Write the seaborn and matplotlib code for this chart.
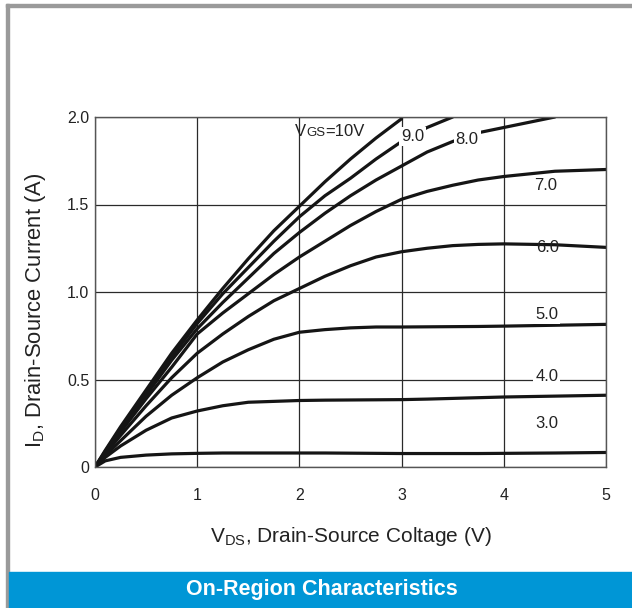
import numpy as np
import pandas as pd
import seaborn as sns
import matplotlib.pyplot as plt
from matplotlib.patches import Rectangle
from matplotlib.offsetbox import TextArea, HPacker, AnnotationBbox

# V_DS grid (V) and drain current (A) for each gate voltage
vds = [0, 0.1, 0.25, 0.5, 0.75, 1, 1.25, 1.5, 1.75, 2, 2.25, 2.5, 2.75, 3, 3.25, 3.5, 3.75, 4, 4.5, 5]
nan = np.nan
id_10v = [0, .095, .23, .44, .65, .84, 1.02, 1.19, 1.35, 1.49, 1.63, 1.76, 1.88, 1.99, nan, nan, nan, nan, nan, nan]
id_9v = [0, .09, .22, .43, .63, .82, .99, 1.14, 1.29, 1.43, 1.55, 1.65, 1.76, 1.86, 1.94, 2.0, nan, nan, nan, nan]
id_8v = [0, .085, .21, .41, .61, .79, .94, 1.08, 1.22, 1.34, 1.45, 1.55, 1.64, 1.72, 1.80, 1.86, 1.91, 1.94, 2.0, nan]
id_7v = [0, .08, .20, .39, .57, .76, .88, .99, 1.10, 1.20, 1.29, 1.38, 1.46, 1.53, 1.575, 1.61, 1.64, 1.66, 1.69, 1.70]
id_6v = [0, .075, .18, .35, .51, .65, .76, .86, .95, 1.02, 1.09, 1.15, 1.20, 1.23, 1.25, 1.265, 1.272, 1.275, 1.27, 1.255]
id_5v = [0, .065, .15, .29, .41, .51, .60, .67, .73, .77, .785, .795, .80, .80, .801, .802, .803, .805, .81, .815]
id_4v = [0, .055, .12, .21, .28, .32, .35, .37, .375, .38, .382, .383, .384, .385, .388, .392, .396, .40, .405, .41]
id_3v = [0, .035, .055, .068, .075, .078, .08, .08, .08, .08, .08, .079, .078, .077, .077, .077, .077, .078, .08, .083]

curve_labels = ["9.0", "8.0", "7.0", "6.0", "5.0", "4.0", "3.0"]
label_x = [3.11, 3.64, 4.41, 4.43, 4.42, 4.42, 4.42]
label_y = [1.886, 1.87, 1.61, 1.257, 0.869, 0.516, 0.246]

xticks = [0, 1, 2, 3, 4, 5]
yticks = [0, 0.5, 1.0, 1.5, 2.0]
ytick_labels = ["0", "0.5", "1.0", "1.5", "2.0"]

series = {10: id_10v, 9: id_9v, 8: id_8v, 7: id_7v, 6: id_6v, 5: id_5v, 4: id_4v, 3: id_3v}
rows = []
for vgs, vals in series.items():
    for x, y in zip(vds, vals):
        rows.append((vgs, x, y))
df = pd.DataFrame(rows, columns=["VGS", "VDS", "ID"]).dropna()

sns.set_style("white")
plt.rcParams["font.family"] = ["Liberation Sans", "DejaVu Sans"]
plt.rcParams["mathtext.fontset"] = "custom"
plt.rcParams["mathtext.rm"] = "Liberation Sans"

fig = plt.figure(figsize=(6.32, 6.08), dpi=100)
ax = fig.add_axes([95 / 632, 1 - 467 / 608, 511 / 632, 350 / 608])

sns.lineplot(data=df, x="VDS", y="ID", hue="VGS", palette=["#151515"] * 8,
             legend=False, linewidth=2.3, estimator=None, sort=False, ax=ax,
             solid_joinstyle="round", solid_capstyle="round")

ax.set_xlim(0, 5)
ax.set_ylim(0, 2.0)
ax.set_xticks(xticks)
ax.set_yticks(yticks)
ax.set_yticklabels(ytick_labels)
ax.tick_params(length=0, labelsize=11.5, colors="#222222")
ax.tick_params(axis="x", pad=15)
ax.tick_params(axis="y", pad=4)
ax.grid(True, color="#2a2a2a", linewidth=0.9)
for s in ax.spines.values():
    s.set_color("#555555")
    s.set_linewidth(1.0)

ax.set_xlabel(r"V$_{\mathregular{DS}}$, Drain-Source Coltage (V)", fontsize=15,
              color="#222222")
ax.xaxis.set_label_coords(0.5, -0.165)
ax.set_ylabel(r"I$_{\mathregular{D}}$, Drain-Source Current (A)", fontsize=15.8,
              color="#222222")
ax.yaxis.set_label_coords(-0.092, 0.449)

for lab, x, y in zip(curve_labels, label_x, label_y):
    bg = None if lab == "6.0" else dict(facecolor="white", edgecolor="none", pad=1.5)
    ax.text(x, y, lab, fontsize=12, ha="center", va="center", color="#222222",
            bbox=bg, zorder=5)

vgs_box = HPacker(children=[TextArea("V", textprops=dict(fontsize=12, color="#222222")),
                            TextArea("GS", textprops=dict(fontsize=9.5, color="#222222")),
                            TextArea("=10V", textprops=dict(fontsize=12, color="#222222"))],
                  align="baseline", pad=0, sep=0)
ab = AnnotationBbox(vgs_box, (1.96, 1.92), box_alignment=(0, 0.5), frameon=False, zorder=5)
ax.add_artist(ab)

# page frame and caption banner
fig.patches.append(Rectangle((6 / 632, 1 - 7 / 608), 626 / 632, 3 / 608,
                             transform=fig.transFigure, color="#9a9a9a"))
fig.patches.append(Rectangle((6 / 632, 0), 3 / 632, 1 - 4 / 608,
                             transform=fig.transFigure, color="#9a9a9a"))
fig.patches.append(Rectangle((9 / 632, 0), 623 / 632, 36 / 608,
                             transform=fig.transFigure, color="#0096d6"))
fig.text(322 / 632, 18 / 608, "On-Region Characteristics", color="white",
         fontsize=15.5, fontweight="bold", ha="center", va="center")

fig.savefig("out.png", dpi=100)
